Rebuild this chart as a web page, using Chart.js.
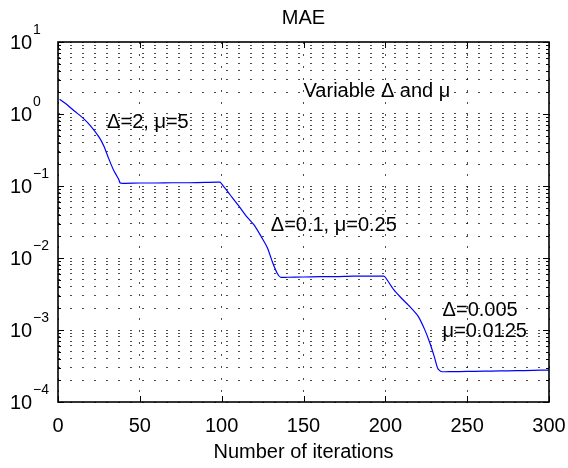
<!DOCTYPE html>
<html>
<head>
<meta charset="utf-8">
<title>MAE</title>
<script src="https://cdn.jsdelivr.net/npm/chart.js@4/dist/chart.umd.min.js"></script>
<style>
body{margin:0;background:#fff;}
#chart{display:block;}
</style>
</head>
<body>
<canvas id="chart" width="568" height="468"></canvas>
<script>

/* Data */

const iterations=[1,5,10,15,20,25,28,31,34,37,38,40,50,60,70,80,90,99,
100,105,110,115,120,125,128,131,134,136,140,150,160,170,180,190,199,
200,205,210,215,220,224,227,230,232,234,240,250,260,270,280,290,300];

const maeValues=[1.6,1.38,1.10,0.89,0.68,0.48,0.36,0.24,0.165,0.125,0.110,0.109,0.110,0.110,0.111,0.111,0.112,0.113,
0.107,0.0762,0.0545,0.0382,0.0284,0.0184,0.0138,0.0088,0.0061,0.0054,0.0054,0.00545,0.0055,0.0055,0.0056,0.0056,0.0056,
0.0054,0.00366,0.00274,0.00211,0.00156,0.00102,0.00068,0.00042,0.000294,0.000265,0.000264,0.000266,0.000268,0.00027,0.000272,0.000275,0.000278];

const xTicks=[0,50,100,150,200,250,300];
const yExponents=[-4,-3,-2,-1,0,1];

/* annotation texts, anchored in data units (left edge, baseline) */
const noteTexts=["Δ=2, μ=5","Variable Δ and μ","Δ=0.1, μ=0.25","Δ=0.005","μ=0.0125"];
const noteX=[30,150,130,235,235];
const noteY=[0.64,1.72,0.0237,0.00156,0.0008];

/* log grid: 1..9 x 10^n */
let yGrid=[];
yExponents.forEach(e=>{
for(let k=1;k<=9;k++){
if(e===1 && k>1) break;
yGrid.push(k*Math.pow(10,e));
}
});

const FONT="'Liberation Sans', Arial, Helvetica, sans-serif";
Chart.defaults.font.family=FONT;
Chart.defaults.color="#000";

/* Box, inward ticks, y labels, notes */

const matlabAxes={
id:"matlabAxes",
afterDraw(chart){
const ctx=chart.ctx;
const a=chart.chartArea;
const xs=chart.scales.x;
const ys=chart.scales.y;

ctx.save();
ctx.strokeStyle="#000";

/* tick marks */
ctx.lineWidth=1;
ctx.beginPath();
yGrid.forEach(v=>{
const y=Math.round(ys.getPixelForValue(v))+0.5;
const len=(Math.abs(Math.log10(v)-Math.round(Math.log10(v)))<1e-9)?6:3;
ctx.moveTo(a.left,y);ctx.lineTo(a.left+len,y);
ctx.moveTo(a.right,y);ctx.lineTo(a.right-len,y);
});
xTicks.forEach(v=>{
const x=Math.round(xs.getPixelForValue(v))+0.5;
ctx.moveTo(x,a.bottom);ctx.lineTo(x,a.bottom-6);
ctx.moveTo(x,a.top);ctx.lineTo(x,a.top+6);
});
ctx.stroke();

/* box */
ctx.lineWidth=1.6;
ctx.strokeRect(a.left,a.top,a.right-a.left,a.bottom-a.top);

/* y tick labels 10^n */
ctx.fillStyle="#000";
ctx.textAlign="left";
ctx.textBaseline="middle";
yExponents.forEach(e=>{
const y=ys.getPixelForValue(Math.pow(10,e));
ctx.font="20px "+FONT;
ctx.fillText("10",10,y+1.5);
ctx.font="14px "+FONT;
ctx.fillText(String(e).replace("-","−"),33,y-12);
});

/* notes */
ctx.font="20px "+FONT;
ctx.textBaseline="alphabetic";
noteTexts.forEach((t,i)=>{
ctx.fillText(t,xs.getPixelForValue(noteX[i]),ys.getPixelForValue(noteY[i]));
});

ctx.restore();
}
};

/* Chart */

new Chart(document.getElementById("chart"),{

type:"line",

data:{
datasets:[{
label:"MAE",
data:iterations.map((it,i)=>({x:it,y:maeValues[i]})),
borderColor:"#0000ff",
borderWidth:1.2,
pointRadius:0,
fill:false,
tension:0.2
}]
},

options:{
responsive:false,
animation:false,
devicePixelRatio:1,
layout:{padding:{left:0,right:19,top:0,bottom:0}},
plugins:{
legend:{display:false},
tooltip:{enabled:false},
title:{
display:true,
text:"MAE",
fullSize:false,
color:"#000",
font:{size:20,weight:"normal"},
padding:{top:6,bottom:12}
}
},
scales:{
x:{
type:"linear",
min:0,
max:300,
afterBuildTicks:s=>{s.ticks=xTicks.map(v=>({value:v}));},
afterFit:s=>{s.height=66;s.paddingLeft=0;s.paddingRight=0;},
ticks:{font:{size:20},color:"#000",padding:12,maxRotation:0},
grid:{color:"rgba(0,0,0,0.7)",lineWidth:1,drawTicks:false},
border:{display:false,dash:[2,10]},
title:{display:true,text:"Number of iterations",color:"#000",font:{size:20},padding:{top:0,bottom:4}}
},
y:{
type:"logarithmic",
min:1e-4,
max:10,
afterBuildTicks:s=>{s.ticks=yGrid.map(v=>({value:v}));},
afterFit:s=>{s.width=58;s.paddingTop=0;s.paddingBottom=0;},
ticks:{display:false},
grid:{color:"rgba(0,0,0,0.7)",lineWidth:1,drawTicks:false},
border:{display:false,dash:[2,10]}
}
}
},

plugins:[matlabAxes]

});

</script>
</body>
</html>
